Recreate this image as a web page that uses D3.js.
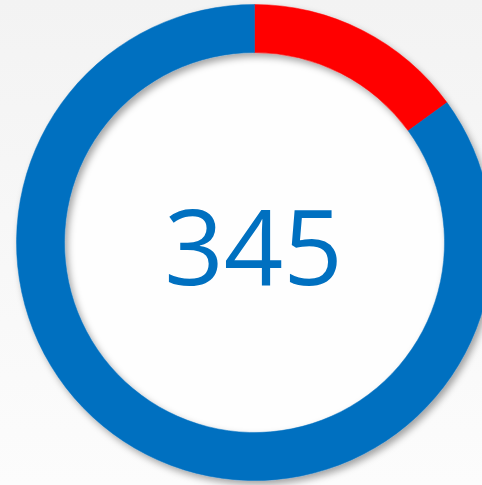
<!DOCTYPE html>
<html>
<head>
<meta charset="utf-8">
<script src="https://cdn.jsdelivr.net/npm/d3@7"></script>
<style>
  html, body { margin: 0; padding: 0; overflow: hidden; }
</style>
</head>
<body>
<script>
var width = 482;
var height = 485;

// data
var segments = ["Red", "Blue"];
var values = [15, 85];
var colors = ["#ff0000", "#0070c0"];
var centerLabel = "345";

var cx = 254.5, cy = 242.5;
var outerR = 238, innerR = 190;

var svg = d3.select("body")
    .append("svg")
    .attr("width", width)
    .attr("height", height);

var defs = svg.append("defs");

var bg = defs.append("linearGradient")
    .attr("id", "bg")
    .attr("x1", 0).attr("y1", 0)
    .attr("x2", 0).attr("y2", 1);
bg.append("stop").attr("offset", "0%").attr("stop-color", "#f3f3f3");
bg.append("stop").attr("offset", "100%").attr("stop-color", "#fcfcfc");

var shadow = defs.append("filter")
    .attr("id", "shadow")
    .attr("x", "-10%").attr("y", "-10%")
    .attr("width", "120%").attr("height", "120%");
shadow.append("feDropShadow")
    .attr("dx", 3)
    .attr("dy", 4)
    .attr("stdDeviation", 3.5)
    .attr("flood-color", "#000")
    .attr("flood-opacity", 0.35);

svg.append("rect")
    .attr("width", width)
    .attr("height", height)
    .attr("fill", "url(#bg)");

// white hole
svg.append("circle")
    .attr("cx", cx)
    .attr("cy", cy)
    .attr("r", innerR)
    .attr("fill", "#fefefe");

var pie = d3.pie().sort(null);
var arc = d3.arc().innerRadius(innerR).outerRadius(outerR);

var ring = svg.append("g")
    .attr("transform", "translate(" + cx + "," + cy + ")")
    .attr("filter", "url(#shadow)");

ring.selectAll("path")
    .data(pie(values))
    .enter()
    .append("path")
    .attr("d", arc)
    .attr("fill", function (d, i) { return colors[i]; })
    .attr("stroke", function (d, i) { return colors[i]; })
    .attr("stroke-width", 0.5);

svg.append("text")
    .attr("x", cx - 1)
    .attr("y", 285)
    .attr("text-anchor", "middle")
    .attr("font-family", "'Open Sans', sans-serif")
    .attr("font-size", "104px")
    .attr("fill", "#0070c0")
    .text(centerLabel);
</script>
</body>
</html>
